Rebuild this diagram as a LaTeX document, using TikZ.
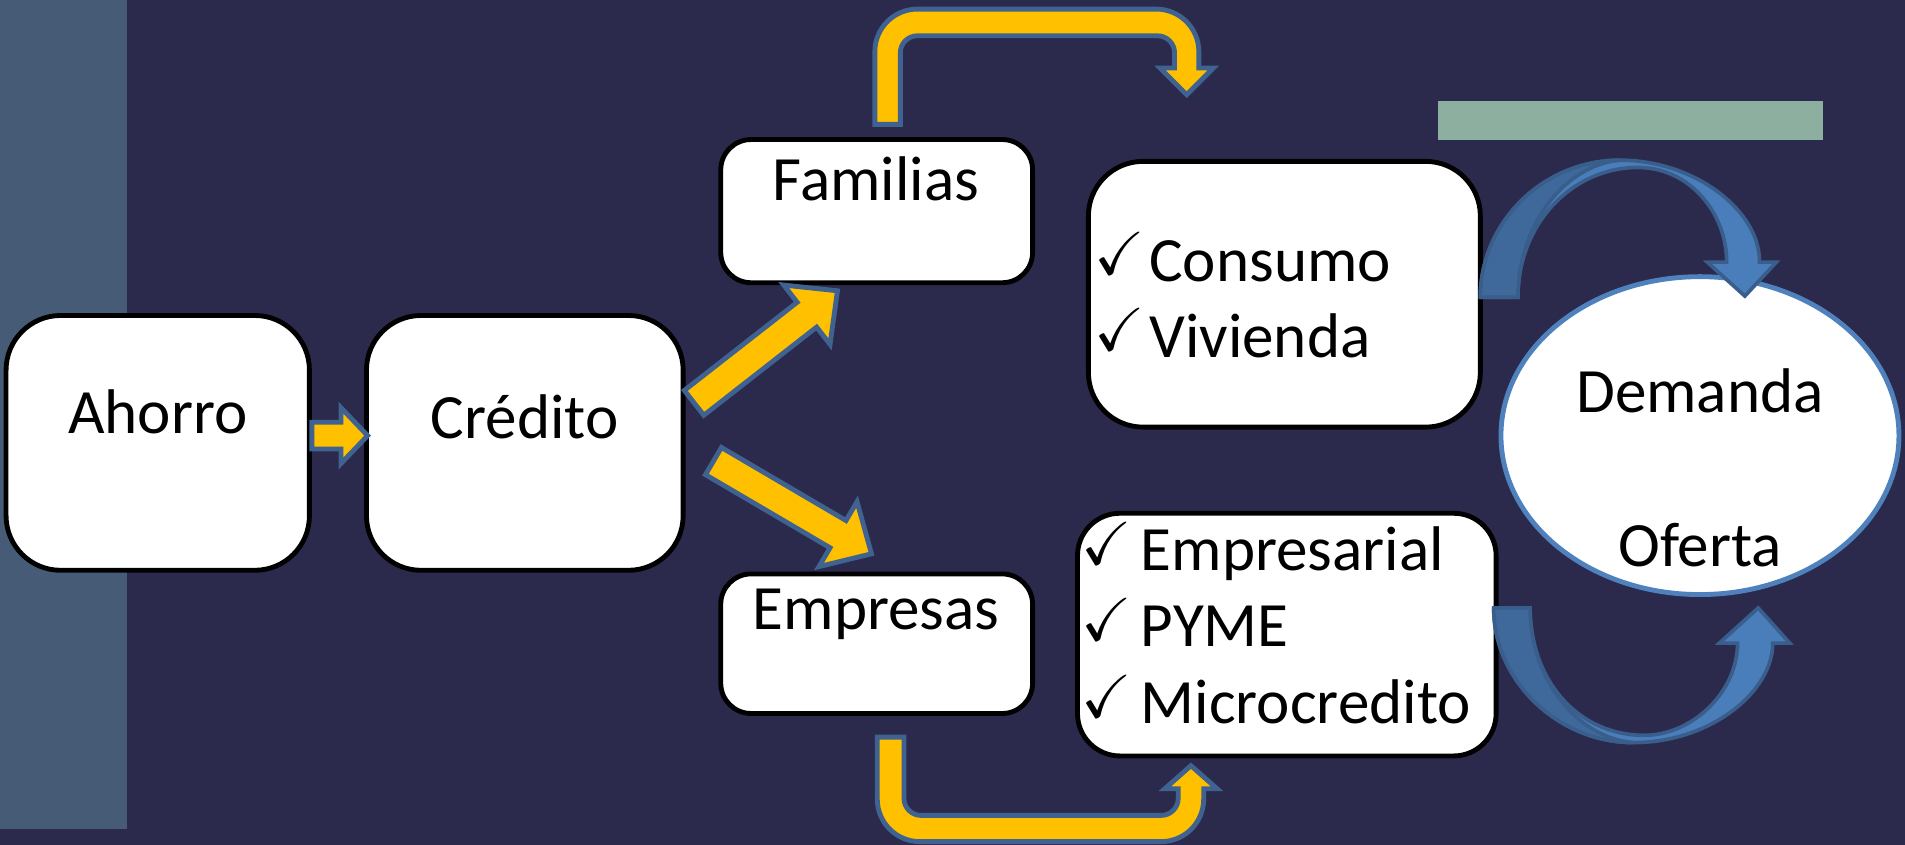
\documentclass[tikz,border=0pt]{standalone}
\usepackage{amssymb}
\usepackage{fontspec}
\usetikzlibrary{shapes.geometric}
\setmainfont{Carlito}
\definecolor{cBg}{HTML}{2B2A4C}
\definecolor{cStrip}{HTML}{465C76}
\definecolor{cGreen}{HTML}{8CAFA0}
\definecolor{cYellow}{HTML}{FFC000}
\definecolor{cYLine}{HTML}{3F6290}
\definecolor{cBlueL}{HTML}{4A7EBB}
\definecolor{cBlueD}{HTML}{3F689B}
\definecolor{cBLine}{HTML}{395E8C}
\definecolor{cEll}{HTML}{4F81BD}
\begin{document}
\begin{tikzpicture}[x=1pt,y=-1pt,
  box/.style={draw=black, line width=4pt, fill=white, inner sep=0pt},
  txt/.style={font=\fontsize{52}{62}\selectfont, anchor=base, inner sep=0pt},
  ltxt/.style={font=\fontsize{52}{62}\selectfont, anchor=base west, inner sep=0pt},
  chk/.style={font=\fontsize{50}{60}\selectfont, anchor=base west, inner sep=0pt},
  yarrow/.style={fill=cYellow, draw=cYLine, line width=4pt, line join=miter},
  barrow/.style={fill=cBlueL, draw=cBLine, line width=3pt, line join=miter},
  bback/.style={fill=cBlueD, draw=cBLine, line width=3pt, line join=round}]
\useasboundingbox (0,0) rectangle (1570,696.4);
\fill[cBg] (0,0) rectangle (1570,696.4);
\fill[cStrip] (0,0) rectangle (105,683);
\fill[cGreen] (1185,83) rectangle (1502,115);

% boxes
\node[box, rounded corners=45pt, minimum width=250pt, minimum height=210pt] (ahorro) at (130,365) {};
\node[box, rounded corners=45pt, minimum width=261pt, minimum height=210pt] (credito) at (432.5,365) {};
\node[box, rounded corners=25pt, minimum width=257pt, minimum height=118pt] (familias) at (722.5,174) {};
\node[box, rounded corners=25pt, minimum width=257pt, minimum height=115pt] (empresas) at (722.5,530.5) {};
\node[box, rounded corners=45pt, minimum width=323pt, minimum height=219pt] (consumo) at (1058.5,242.5) {};
\node[box, rounded corners=35pt, minimum width=345pt, minimum height=200pt] (empresarial) at (1060.5,523) {};
\node[draw=cEll, line width=4pt, fill=white, ellipse, minimum width=328pt, minimum height=262pt, inner sep=0pt] (mercado) at (1401,359) {};

% texts
\node[txt] (tAhorro) at (130,357) {Ahorro};
\node[txt] (tCredito) at (432.5,361) {Crédito};
\node[txt] (tFamilias) at (722,165) {Familias};
\node[txt] (tEmpresas) at (722,519) {Empresas};
\node[chk] (c1) at (902,226) {$\checkmark$};
\node[ltxt] (tConsumo) at (947,232) {Consumo};
\node[chk] (c2) at (902,289) {$\checkmark$};
\node[ltxt] (tVivienda) at (947,295) {Vivienda};
\node[chk] (c3) at (891,465) {$\checkmark$};
\node[ltxt] (tEmpresarial) at (940,470) {Empresarial};
\node[chk] (c4) at (891,528) {$\checkmark$};
\node[ltxt] (tPyme) at (940,533) {PYME};
\node[chk] (c5) at (891,591) {$\checkmark$};
\node[ltxt] (tMicro) at (940,596) {Microcredito};
\node[txt] (tDemanda) at (1401,340) {Demanda};
\node[txt] (tOferta) at (1401,467) {Oferta};

% yellow arrows
\draw[yarrow] (257,348) -- (281,348) -- (281,336) -- (303,359) -- (281,382) -- (281,370) -- (257,370) -- cycle;

\begin{scope}[shift={(572,332)}, rotate=38]
\draw[yarrow] (0,-13) -- (118,-13) -- (118,-31) -- (150,0) -- (118,31) -- (118,13) -- (0,13) -- cycle;
\end{scope}
\begin{scope}[shift={(588,380)}, rotate=-30.4]
\draw[yarrow] (0,-13) -- (119,-13) -- (119,-31) -- (151,0) -- (119,31) -- (119,13) -- (0,13) -- cycle;
\end{scope}

\draw[yarrow] (721,102.5) -- (721,42.5) .. controls (721,23.2) and (736.7,7.5) .. (756,7.5)
  -- (953,7.5) .. controls (972.3,7.5) and (988,23.2) .. (988,42.5)
  -- (988,56) -- (1000,56) -- (978,78) -- (956,56) -- (968,56) -- (968,43.5)
  .. controls (968,35.8) and (961.7,29.5) .. (954,29.5)
  -- (756,29.5) .. controls (748.3,29.5) and (742,35.8) .. (742,43.5)
  -- (742,102.5) -- cycle;

\draw[yarrow] (723,607.5) -- (723,658.6) .. controls (723,677.9) and (738.7,693.6) .. (758,693.6)
  -- (957,693.6) .. controls (976.3,693.6) and (992,677.9) .. (992,658.6)
  -- (992,650) -- (1003,650) -- (981.5,631) -- (960,650) -- (971,650) -- (971,658)
  .. controls (971,665.7) and (964.7,672) .. (957,672)
  -- (759,672) .. controls (751.3,672) and (745,665.7) .. (745,658)
  -- (745,607.5) -- cycle;

% blue curved arrows
\draw[barrow] (1220,245) .. controls (1220,183) and (1272,132) .. (1335,132)
  .. controls (1398,132) and (1451,175) .. (1450,216)
  -- (1464,216) -- (1438,244) -- (1407,216) -- (1423,216)
  .. controls (1423,175) and (1392,138) .. (1350,138)
  .. controls (1295,138) and (1251,185) .. (1251,245) -- cycle;
\draw[bback] (1220,245) .. controls (1220,183) and (1272,132) .. (1335,132)
  .. controls (1290,136) and (1251,185) .. (1251,245) -- cycle;

\draw[barrow] (1231,501) .. controls (1231,562) and (1285,612) .. (1346,612)
  .. controls (1410,612) and (1461,570) .. (1461,530)
  -- (1475,530) -- (1449,501) -- (1417,530) -- (1432,530)
  .. controls (1432,570) and (1395,606) .. (1355,606)
  .. controls (1300,606) and (1261,560) .. (1261,501) -- cycle;
\draw[bback] (1231,501) .. controls (1231,562) and (1285,612) .. (1346,612)
  .. controls (1300,608) and (1261,560) .. (1261,501) -- cycle;
\end{tikzpicture}
\end{document}
